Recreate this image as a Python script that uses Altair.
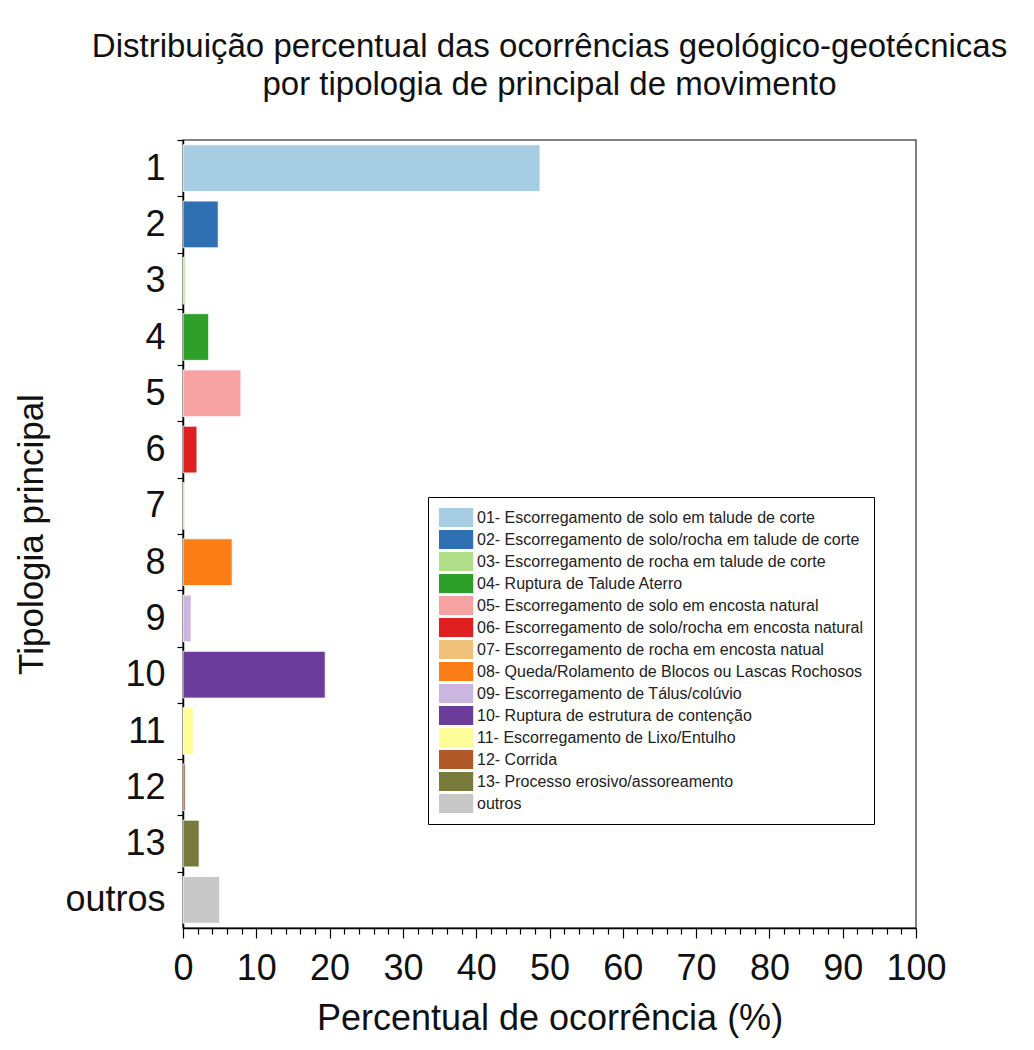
import altair as alt
import pandas as pd

categories = ["1", "2", "3", "4", "5", "6", "7", "8", "9", "10", "11", "12", "13", "outros"]
legend_labels = [
    "01- Escorregamento de solo em talude de corte",
    "02- Escorregamento de solo/rocha em talude de corte",
    "03- Escorregamento de rocha em talude de corte",
    "04- Ruptura de Talude Aterro",
    "05- Escorregamento de solo em encosta natural",
    "06- Escorregamento de solo/rocha em encosta natural",
    "07- Escorregamento de rocha em encosta natual",
    "08- Queda/Rolamento de Blocos ou Lascas Rochosos",
    "09- Escorregamento de Tálus/colúvio",
    "10- Ruptura de estrutura de contenção",
    "11- Escorregamento de Lixo/Entulho",
    "12- Corrida",
    "13- Processo erosivo/assoreamento",
    "outros",
]
percent = [48.7, 4.8, 0.3, 3.5, 7.9, 1.9, 0.2, 6.7, 1.1, 19.4, 1.4, 0.3, 2.2, 5.0]
colors = ["#a6cde1", "#2f70b3", "#b2df8a", "#2ea02a", "#f7a3a3", "#e02020",
          "#f0c27a", "#fb7d16", "#cbb6e0", "#6a3d9a", "#ffff99", "#b15928",
          "#787a3c", "#c8c8c8"]
x_ticks = list(range(0, 101, 2))

df = pd.DataFrame({"cat": categories, "leg": legend_labels, "pct": percent})

FONT = "Liberation Sans"
step = 788 / 14

chart = alt.Chart(df).mark_bar(stroke="white", strokeWidth=0.8).encode(
    x=alt.X("pct:Q",
            scale=alt.Scale(domain=[0, 100], nice=False),
            axis=alt.Axis(
                title="Percentual de ocorrência (%)",
                values=x_ticks,
                labelExpr="datum.value % 10 === 0 ? datum.label : ''",
                tickSize={"condition": {"test": "datum.value % 10 === 0", "value": 10}, "value": 6},
                labelOverlap=False,
                labelFlush=False,
                grid=False,
                labelFontSize=36,
                labelPadding=13,
                titleFontSize=36,
                titlePadding=15,
                titleFontWeight="normal",
                domainColor="black",
                domainWidth=1.5,
                tickColor="black",
                tickWidth=1.2,
                labelColor="#111",
                titleColor="#111",
                labelFont=FONT,
                titleFont=FONT,
            )),
    y=alt.Y("cat:N", sort=categories,
            scale=alt.Scale(paddingInner=0.17, paddingOuter=0.085),
            axis=alt.Axis(
                title="Tipologia principal",
                tickOffset=-step / 2,
                labelOffset=step / 2,
                tickSize=6,
                labelPadding=12,
                labelFontSize=36,
                titleFontSize=35,
                titleFontWeight="normal",
                titlePadding=15,
                domainColor="black",
                domainWidth=1.5,
                tickColor="black",
                tickWidth=1.2,
                labelColor="#111",
                titleColor="#111",
                labelFont=FONT,
                titleFont=FONT,
            )),
    color=alt.Color("leg:N",
                    scale=alt.Scale(domain=legend_labels, range=colors),
                    legend=alt.Legend(
                        title=None,
                        orient="none",
                        legendX=245,
                        legendY=357,
                        symbolType="M-1,-1H2.6V1H-1Z",
                        symbolSize=361,
                        symbolStrokeWidth=0,
                        labelFontSize=16,
                        labelFont=FONT,
                        labelColor="#222",
                        labelLimit=500,
                        rowPadding=3,
                        strokeColor="black",
                        fillColor="white",
                        padding=11,
                        symbolOffset=0,
                        labelOffset=19,
                    )),
).properties(
    width=733,
    height=788,
    title=alt.TitleParams(
        text=["Distribuição percentual das ocorrências geológico-geotécnicas",
              "por tipologia de principal de movimento"],
        fontSize=33,
        font=FONT,
        fontWeight="normal",
        color="#111",
        lineHeight=38,
        anchor="middle",
        offset=37,
    ),
    autosize=alt.AutoSizeParams(type="none"),
    padding={"left": 175, "top": 132, "right": 100, "bottom": 114},
).configure_view(stroke="#555", strokeWidth=1.5)

chart.save("out.html", embed_options={"renderer": "svg", "actions": False})
